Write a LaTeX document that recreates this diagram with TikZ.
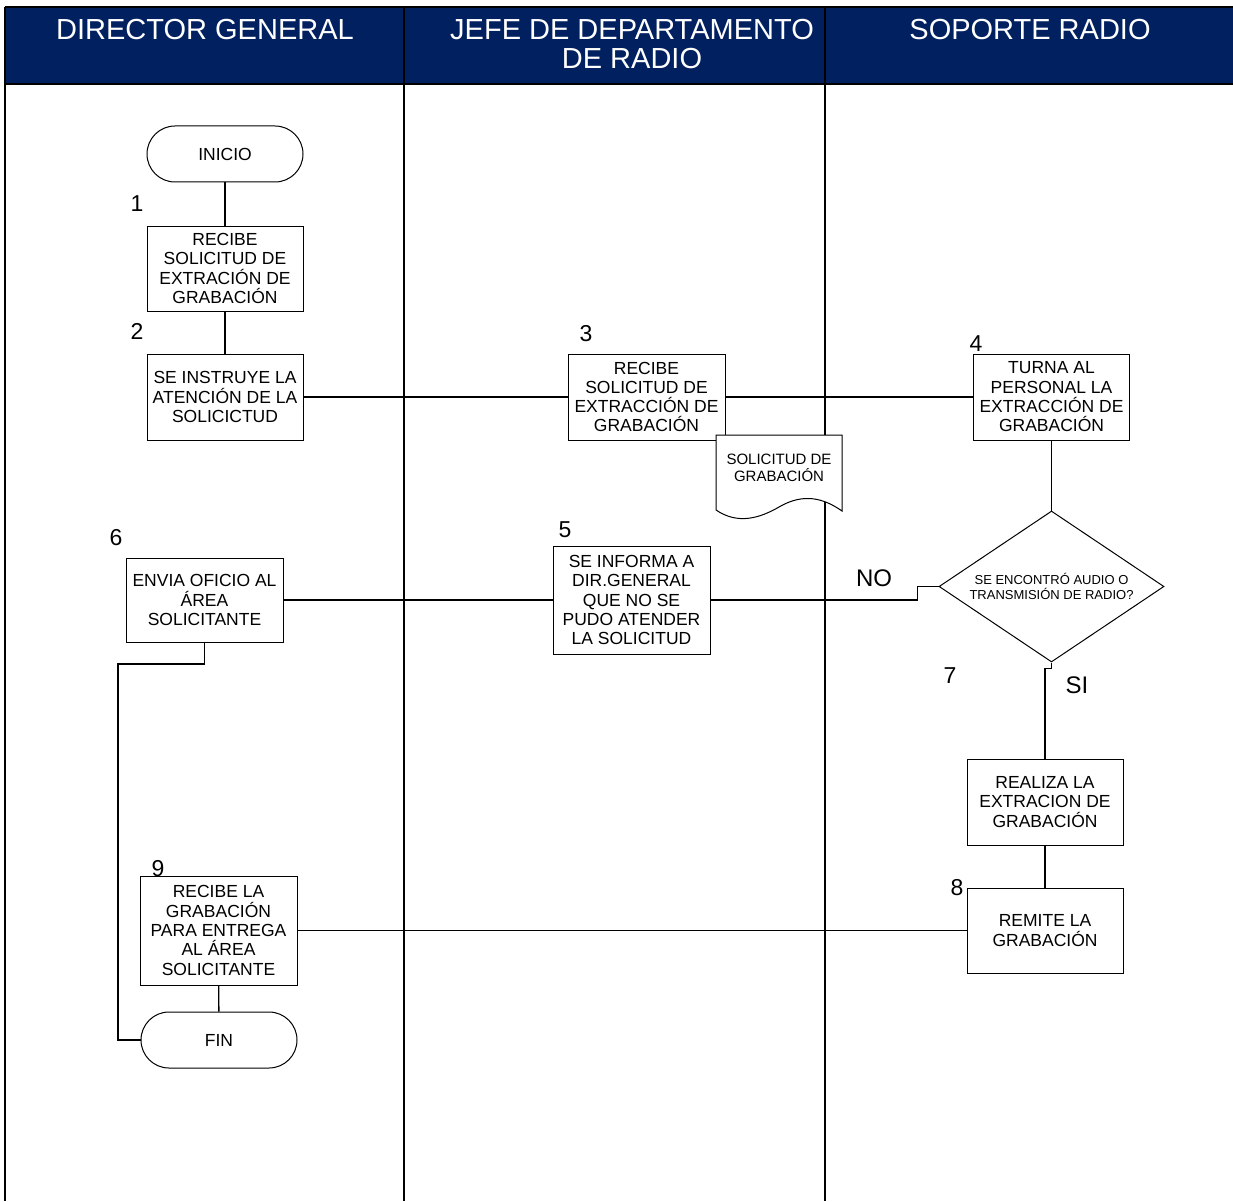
\documentclass[tikz,border=0pt]{standalone}
\usepackage{fontspec}
\setmainfont{Liberation Sans}
\usetikzlibrary{shapes.geometric}
\definecolor{navy}{RGB}{0,32,96}
\begin{document}
\begin{tikzpicture}[x=1pt,y=-1pt,
  box/.style={draw=black,line width=1pt,fill=white,rectangle,minimum width=156pt,minimum height=86pt,inner sep=0pt,align=center,font=\fontsize{17.5}{19.3}\selectfont},
  term/.style={draw=black,line width=1pt,fill=white,rectangle,rounded corners=28pt,minimum width=156pt,minimum height=56pt,inner sep=0pt,font=\fontsize{17.5}{19.3}\selectfont},
  num/.style={inner sep=0pt,font=\fontsize{23}{23}\selectfont},
  conn/.style={line width=1.3pt,draw=black},
  lane/.style={line width=2pt,draw=black},
  head/.style={text=white,align=center,inner sep=0pt,font=\fontsize{29}{29.5}\selectfont}]
\useasboundingbox (0,0) rectangle (1233,1201);
% header
\fill[navy] (5,7) rectangle (1233,84);
\draw[lane] (5,7) -- (1233,7);
\draw[lane] (5,84) -- (1233,84);
\draw[lane] (5,7) -- (5,1201);
\draw[lane] (404,7) -- (404,1201);
\draw[lane] (825,7) -- (825,1201);
\node[head] (h1) at (205,30) {DIRECTOR GENERAL};
\node[head] (h2) at (632,44) {JEFE DE DEPARTAMENTO\\DE RADIO};
\node[head] (h3) at (1030,30) {SOPORTE RADIO};

% nodes
\node[term] (inicio) at (225,154) {INICIO};
\node[box,minimum height=85pt] (b1) at (225,268.5) {RECIBE\\SOLICITUD DE\\EXTRACIÓN DE\\GRABACIÓN};
\node[box] (b2) at (225,397) {SE INSTRUYE LA\\ATENCIÓN DE LA\\SOLICICTUD};
\node[box,minimum width=157pt] (b3) at (646.5,397) {RECIBE\\SOLICITUD DE\\EXTRACCIÓN DE\\GRABACIÓN};
\node[box] (b4) at (1051.5,397) {TURNA AL\\PERSONAL LA\\EXTRACCIÓN DE\\GRABACIÓN};
\node[draw=black,line width=1pt,fill=white,diamond,minimum width=225pt,minimum height=151pt,inner sep=0pt] (dec) at (1051.5,586.5) {};
\node[align=center,inner sep=0pt,font=\fontsize{13}{15}\selectfont] (dectext) at (dec.center) {SE ENCONTRÓ AUDIO O\\TRANSMISIÓN DE RADIO?};
\node[box,minimum width=157pt,minimum height=108pt] (b5) at (631.5,600) {SE INFORMA A\\DIR.GENERAL\\QUE NO SE\\PUDO ATENDER\\LA SOLICITUD};
\node[box,minimum width=157pt,minimum height=84pt] (b6) at (204.5,600) {ENVIA OFICIO AL\\ÁREA\\SOLICITANTE};
\node[box] (b7) at (1045,802) {REALIZA LA\\EXTRACION DE\\GRABACIÓN};
\node[box,minimum height=85pt] (b8) at (1045,930.5) {REMITE LA\\GRABACIÓN};
\node[box,minimum width=157pt,minimum height=109pt] (b9) at (218.5,930.5) {RECIBE LA\\GRABACIÓN\\PARA ENTREGA\\AL ÁREA\\SOLICITANTE};
\node[term] (fin) at (219,1040) {FIN};

% connectors
\draw[conn] (inicio) -- (b1);
\draw[conn] (b1) -- (b2);
\draw[conn] (b2) -- (b3);
\draw[conn] (b3) -- (b4);
\draw[conn] (b4) -- (dec.north);
\draw[conn] (dec.west) -- ++(-21,0) |- (b5.east);
\draw[conn] (b5) -- (b6);
\coordinate (lp) at (118,664);
\draw[conn] (b6.south) |- (lp) |- (fin.west);
\draw[conn] (dec.south) -- ++(0,6) -| (b7.north);
\draw[conn] (b7) -- (b8);
\draw[conn] (b8) -- (b9);
\draw[conn] (b9) -- (fin);

% document
\draw[line width=1pt,fill=white] (716,435) -- (842,435) -- (842,511)
  .. controls (818,494) and (798,496) .. (779,507)
  .. controls (760,518) and (738,525) .. (716,510) -- cycle;
\node[align=center,inner sep=0pt,font=\fontsize{15}{17}\selectfont] (doc) at (779,467.5) {SOLICITUD DE\\GRABACIÓN};

% numbers
\node[num] (n1) at (137,204) {1};
\node[num] (n2) at (137,331) {2};
\node[num] (n3) at (586,334) {3};
\node[num] (n4) at (976,344) {4};
\node[num] (n5) at (565,530) {5};
\node[num] (n6) at (116,538) {6};
\node[num] (n7) at (950,676) {7};
\node[num] (n8) at (957,888) {8};
\node[num] (n9) at (158,869) {9};
\node[num,font=\fontsize{24}{24}\selectfont] (no) at (874,578) {NO};
\node[num,font=\fontsize{24}{24}\selectfont] (si) at (1077,685) {SI};
\end{tikzpicture}
\end{document}
